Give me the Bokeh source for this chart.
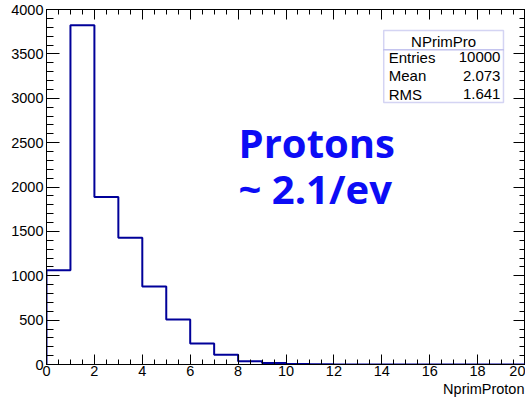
import numpy as np
from bokeh.plotting import figure
from bokeh.models import (LinearAxis, Range1d, Label, BoxAnnotation, Title,
                          SingleIntervalTicker, CustomLabelingPolicy)
from bokeh.embed import file_html
from bokeh.resources import INLINE

# Histogram of primary protons per event (unit-width bins from 0 to 20)
edges = list(range(0, 21))
counts = [1062, 3822, 1886, 1428, 880, 508, 238, 110, 38, 17,
          6, 3, 1, 1, 0, 0, 0, 0, 0, 0]

hist_name = "NPrimPro"
stat_names = ["Entries", "Mean", "RMS"]
stat_values = [str(sum(counts)), "2.073", "1.641"]
x_title = "NprimProton"
note_lines = ["Protons", "~ 2.1/ev"]

x_lo, x_hi = 0, 20
y_lo, y_hi = 0, 4000

AXIS_FONT = "Liberation Sans"
LINE_COLOR = "#000099"
NOTE_COLOR = "#0c0cf5"
BOX_COLOR = "#7272d8"

p = figure(width=525, height=397,
           x_range=Range1d(x_lo, x_hi), y_range=Range1d(y_lo, y_hi),
           output_backend="svg", toolbar_location=None,
           min_border_left=46, min_border_right=0,
           min_border_top=9, min_border_bottom=33)
p.grid.visible = False
p.outline_line_color = "black"
p.background_fill_color = "white"
p.border_fill_color = "white"

# Step outline of the histogram, built from the bin edges and counts
xs = np.repeat(edges, 2)
ys = np.concatenate([[0], np.repeat(counts, 2), [0]])
p.line(xs, ys, line_color=LINE_COLOR, line_width=2)


def style_axis(ax, major_in, minor_in, labels=True):
    ax.major_tick_in = major_in
    ax.major_tick_out = 0
    ax.minor_tick_in = minor_in
    ax.minor_tick_out = 0
    ax.axis_line_color = "black"
    ax.major_tick_line_color = "black"
    ax.minor_tick_line_color = "black"
    ax.major_label_text_font = AXIS_FONT
    ax.major_label_text_color = "black"
    if labels:
        ax.major_label_text_font_size = "14.5px"
    else:
        # tick marks only on the mirrored axes: no labels, no reserved space
        ax.major_label_text_font_size = "0px"
        ax.major_label_policy = CustomLabelingPolicy(code="return []")
        ax.major_label_standoff = 0
        ax.axis_label_standoff = 0


xa = p.xaxis[0]
xa.ticker = SingleIntervalTicker(interval=2, num_minor_ticks=4)
style_axis(xa, 10, 5)
xa.major_label_standoff = 1

ya = p.yaxis[0]
ya.ticker = SingleIntervalTicker(interval=500, num_minor_ticks=5)
style_axis(ya, 13, 7)
ya.major_label_standoff = 3

top = LinearAxis(ticker=SingleIntervalTicker(interval=2, num_minor_ticks=4))
style_axis(top, 10, 5, labels=False)
p.add_layout(top, "above")

right = LinearAxis(ticker=SingleIntervalTicker(interval=500, num_minor_ticks=5))
style_axis(right, 12, 6, labels=False)
p.add_layout(right, "right")

# x-axis title, right-aligned under the end of the axis
p.add_layout(Title(text=x_title, align="right", standoff=0, offset=1,
                   text_font=AXIS_FONT, text_font_size="14.5px",
                   text_font_style="normal", text_color="black"), "below")


def fx(f):
    return x_lo + f * (x_hi - x_lo)


def fy(f):
    return y_lo + f * (y_hi - y_lo)


# Statistics box (title cell + body cell)
bx1, bx2 = 0.704, 0.954
by_top, by_mid, by_bot = 0.941, 0.886, 0.738
p.add_layout(BoxAnnotation(left=fx(bx1), right=fx(bx2), top=fy(by_top), bottom=fy(by_mid),
                           fill_color="white", fill_alpha=1.0,
                           line_color=BOX_COLOR, line_width=1.5))
p.add_layout(BoxAnnotation(left=fx(bx1), right=fx(bx2), top=fy(by_mid), bottom=fy(by_bot),
                           fill_color="white", fill_alpha=1.0,
                           line_color=BOX_COLOR, line_width=1.5))

p.add_layout(Label(x=fx((bx1 + bx2) / 2), y=fy(0.910), text=hist_name,
                   text_align="center", text_baseline="middle",
                   text_font=AXIS_FONT, text_font_size="15px", text_color="black"))

row_y = [0.866, 0.813, 0.761]
for name, val, fyv in zip(stat_names, stat_values, row_y):
    p.add_layout(Label(x=fx(bx1), y=fy(fyv), x_offset=5, text=name,
                       text_align="left", text_baseline="middle",
                       text_font=AXIS_FONT, text_font_size="15px", text_color="black"))
    p.add_layout(Label(x=fx(bx2), y=fy(fyv), x_offset=-3, text=val,
                       text_align="right", text_baseline="middle",
                       text_font=AXIS_FONT, text_font_size="15px", text_color="black"))

# Large annotation text
for line, fyv in zip(note_lines, [0.626, 0.496]):
    p.add_layout(Label(x=fx(0.401), y=fy(fyv), text=line,
                       text_align="left", text_baseline="alphabetic",
                       text_font="Open Sans", text_font_style="bold",
                       text_font_size="40px", text_color=NOTE_COLOR))

open("out.html", "w").write(file_html(p, INLINE))
